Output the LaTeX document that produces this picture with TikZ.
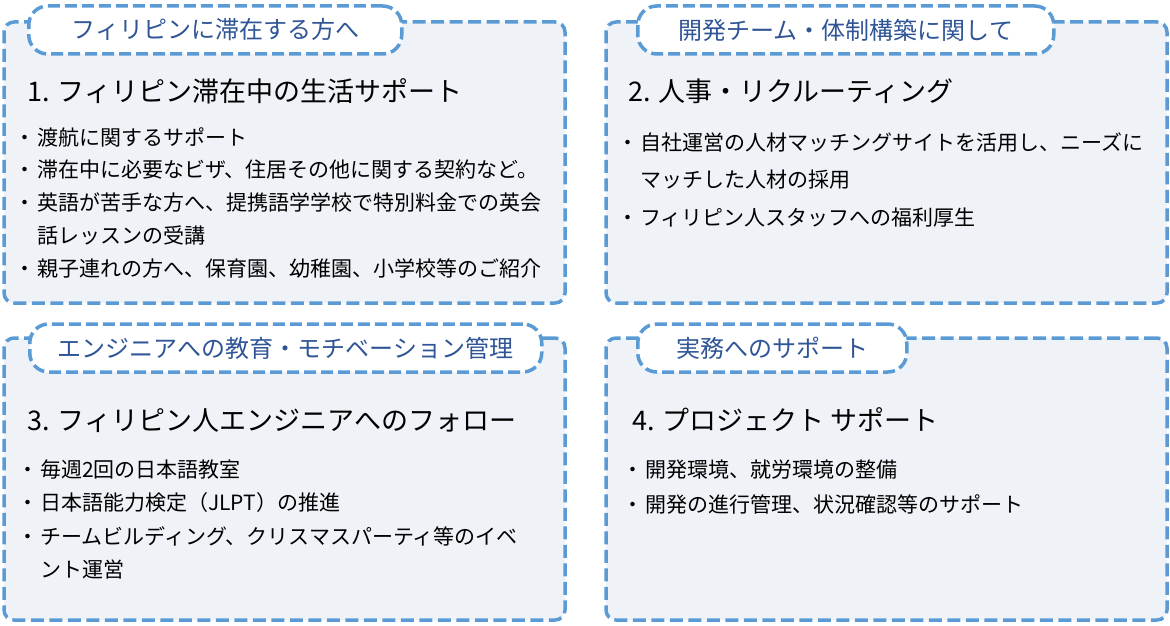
\documentclass[tikz,border=0pt]{standalone}
\usepackage{fontspec}
\setmainfont{Noto Sans CJK JP}
\usetikzlibrary{positioning,calc}
\definecolor{dashblue}{RGB}{91,155,213}
\definecolor{panelfill}{RGB}{239,243,248}
\definecolor{tabtext}{RGB}{47,85,151}
\newcommand{\itm}{\makebox[24pt]{・}}
\newcommand{\cont}{\hspace*{24pt}}

\begin{document}
\begin{tikzpicture}[
  panel/.style={draw=dashblue, line width=3.5pt, dash pattern=on 13pt off 5.5pt,
                fill=panelfill, rounded corners=10pt, minimum width=561pt,
                minimum height=281pt, outer sep=0pt, inner sep=0pt},
  tab/.style={draw=dashblue, line width=3.5pt, dash pattern=on 12pt off 5pt,
              fill=white, rounded corners=19pt, minimum height=48pt, anchor=west,
              text=tabtext, font=\fontsize{24pt}{28pt}\selectfont, inner sep=0pt},
  head/.style={anchor=base west, inner sep=0pt, font=\fontsize{27pt}{30pt}\selectfont},
  items/.style={anchor=base west, inner sep=0pt, align=left,
                font=\fontsize{21pt}{#1}\selectfont}]
\useasboundingbox (0,0) rectangle (1170pt,-626pt);

% four panels
\node[panel, anchor=north west] (p1) at (4pt,-22pt) {};
\node[panel, right=41pt of p1] (p2) {};
\node[panel, below=35pt of p1, minimum height=282pt] (p3) {};
\node[panel, below=35pt of p2, minimum height=282pt] (p4) {};

% tabs
\node[tab, minimum width=373pt] (t1) at ($(p1.north west)+(23pt,-8pt)$) {フィリピンに滞在する方へ};
\node[tab, minimum width=416pt] (t2) at ($(p2.north west)+(30pt,-8pt)$) {開発チーム・体制構築に関して};
\node[tab, minimum width=512pt] (t3) at ($(p3.north west)+(24pt,-10pt)$) {エンジニアへの教育・モチベーション管理};
\node[tab, minimum width=269pt] (t4) at ($(p4.north west)+(30pt,-10pt)$) {実務へのサポート};

% headings
\node[head] (h1) at ($(p1.north west)+(23pt,-79pt)$) {1. フィリピン滞在中の生活サポート};
\node[head] (h2) at ($(p2.north west)+(22pt,-79pt)$) {2. 人事・リクルーティング};
\node[head] (h3) at ($(p3.north west)+(23pt,-92pt)$) {3. フィリピン人エンジニアへのフォロー};
\node[head] (h4) at ($(p4.north west)+(26pt,-92pt)$) {4. プロジェクト サポート};

% bullet lists (anchored on the last line)
\node[items=32.75pt] (l1) at ($(p1.north west)+(9pt,-254pt)$)
  {\itm 渡航に関するサポート\\
   \itm 滞在中に必要なビザ、住居その他に関する契約など。\\
   \itm 英語が苦手な方へ、提携語学学校で特別料金での英会\\
   \cont 話レッスンの受講\\
   \itm 親子連れの方へ、保育園、幼稚園、小学校等のご紹介};
\node[items=37.5pt] (l2) at ($(p2.north west)+(10pt,-203pt)$)
  {\itm 自社運営の人材マッチングサイトを活用し、ニーズに\\
   \cont マッチした人材の採用\\
   \itm フィリピン人スタッフへの福利厚生};
\node[items=33.5pt] (l3) at ($(p3.north west)+(12pt,-239.5pt)$)
  {\itm 毎週2回の日本語教室\\
   \itm 日本語能力検定（JLPT）の推進\\
   \itm チームビルディング、クリスマスパーティ等のイベ\\
   \cont ント運営};
\node[items=35pt] (l4) at ($(p4.north west)+(15pt,-174pt)$)
  {\itm 開発環境、就労環境の整備\\
   \itm 開発の進行管理、状況確認等のサポート};
\end{tikzpicture}
\end{document}
